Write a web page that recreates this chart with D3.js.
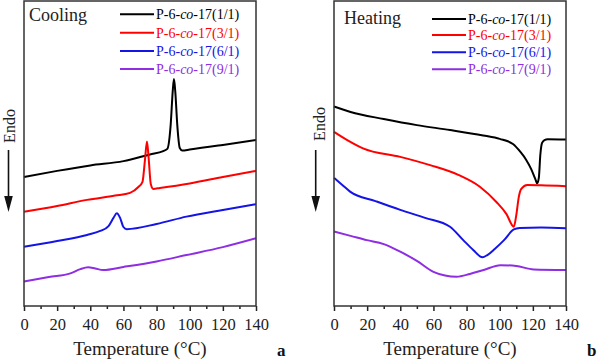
<!DOCTYPE html>
<html>
<head>
<meta charset="utf-8">
<script src="https://cdn.jsdelivr.net/npm/d3@7"></script>
<style>
  body { margin: 0; background: #fff; }
  svg { display: block; font-family: "Liberation Serif", "DejaVu Serif", serif; }
</style>
</head>
<body>
<div class="canvas"></div>
<script>
// DSC traces, values (heat flow, arbitrary units 0-100)
const seriesNames = ['P-6-co-17(1/1)', 'P-6-co-17(3/1)', 'P-6-co-17(6/1)', 'P-6-co-17(9/1)'];
const seriesColors = ['#000000', '#ff0000', '#1414e6', '#8e2de2'];
const tickLabels = [0, 20, 40, 60, 80, 100, 120, 140];

// cooling scans [T (°C), heat flow]
const cool11 = [[0,42.3],[20,44.3],[40,46.1],[60,47.5],[76,49.7],[84,50.8],[86.5,51.5],[88.5,59.3],[89.8,70.8],[90.5,74.4],[91.3,70.2],[92.5,59.3],[94,51.8],[95.5,51.0],[100,51.3],[120,52.8],[140,54.4]];
const cool31 = [[0,30.9],[20,32.8],[38,34.8],[55,36.2],[64,37.1],[69,39.0],[71.5,40.7],[73,47.9],[74.2,53.9],[75.3,47.9],[76.5,40.0],[78,38.4],[82,38.7],[100,40.2],[120,42.3],[140,44.3]];
const cool61 = [[0,19.4],[20,21.3],[38,23.3],[46,24.6],[51,26.2],[54,28.9],[56,30.4],[58,28.9],[60,25.9],[62,25.2],[80,26.9],[98,29.3],[120,31.5],[140,33.4]];
const cool91 = [[0,8.0],[15,9.5],[28,10.7],[34,12.1],[38.7,12.7],[43,12.3],[47.7,11.8],[60,12.8],[80,14.6],[98,16.7],[120,19.3],[140,22.2]];

// heating scans
const heat11 = [[0,65.4],[10,63.6],[30,61.3],[50,59.3],[70,57.7],[90,55.9],[100,54.8],[108,53.1],[112.5,50.5],[116,47.9],[119,44.9],[121.5,41.6],[122.6,40.2],[123.6,42.0],[124.5,49.5],[125.5,53.4],[127,54.4],[129,54.7],[140,54.6]];
const heat31 = [[0,57.1],[8,54.4],[17.5,51.7],[40,48.9],[58,46.2],[75,43.0],[88,39.1],[98,34.1],[104,30.2],[108.5,26.0],[110,29.8],[111.5,35.7],[113,38.4],[116.6,39.7],[125,39.6],[140,39.3]];
const heat61 = [[0,42.0],[5,39.7],[9.7,37.5],[25,34.4],[40,31.5],[55,28.9],[70,26.0],[78,21.6],[84,18.4],[89.5,16.0],[92.5,16.7],[97,18.7],[102.6,21.6],[108.5,25.1],[112,25.6],[125,25.7],[140,25.5]];
const heat91 = [[0,24.4],[10,23.0],[19.8,21.6],[30,20.3],[40,17.8],[50,14.8],[60,11.2],[67,10.0],[74,9.6],[82,10.5],[90.3,11.8],[100.4,13.4],[110,13.1],[120.5,12.0],[140,11.8]];

const svg = d3.select('.canvas').append('svg')
  .attr('width', 600)
  .attr('height', 361);

const y = d3.scaleLinear().domain([0, 100]).range([306, 1]);

const panels = [
  { x0: 24, x1: 256, title: 'Cooling', titleX: 29, titleY: 21, series: [cool11, cool31, cool61, cool91],
    legX: 120, legRows: [14.3, 32.7, 51, 69], endoX: 15, endoY: 126, arrowX: 8.5, tag: 'a', tagX: 277 },
  { x0: 334, x1: 566, title: 'Heating', titleX: 344, titleY: 24, series: [heat11, heat31, heat61, heat91],
    legX: 432, legRows: [19, 35, 52.3, 69.3], endoX: 325, endoY: 124, arrowX: 315.7, tag: 'b', tagX: 587 }
];

panels.forEach(p => {
  const x = d3.scaleLinear().domain([0, 140]).range([p.x0, p.x1]);
  const g = svg.append('g');

  const line = d3.line()
    .x(d => x(d[0]))
    .y(d => y(d[1]))
    .curve(d3.curveMonotoneX);

  g.selectAll('path.trace')
    .data(p.series)
    .enter().append('path')
    .attr('class', 'trace')
    .attr('d', line)
    .attr('fill', 'none')
    .attr('stroke', (d, i) => seriesColors[i])
    .attr('stroke-width', 2)
    .attr('stroke-linejoin', 'round');

  // minor ticks
  g.append('g')
    .attr('transform', `translate(0,${y(0)})`)
    .call(d3.axisBottom(x).tickValues(d3.range(10, 140, 20)).tickSize(3).tickFormat(''))
    .call(a => a.select('.domain').remove())
    .call(a => a.selectAll('line').attr('stroke', '#222').attr('stroke-width', 1.5));

  // major ticks
  g.append('g')
    .attr('transform', `translate(0,${y(0)})`)
    .call(d3.axisBottom(x).tickValues(tickLabels).tickSize(5).tickPadding(7))
    .call(a => a.select('.domain').remove())
    .call(a => a.selectAll('line').attr('stroke', '#222').attr('stroke-width', 1.5))
    .call(a => a.selectAll('text')
      .attr('font-family', '"Liberation Serif", serif')
      .attr('font-size', 16.5)
      .attr('fill', '#222'));

  // frame
  g.append('rect')
    .attr('x', p.x0).attr('y', y(100))
    .attr('width', p.x1 - p.x0).attr('height', y(0) - y(100))
    .attr('fill', 'none')
    .attr('stroke', '#333')
    .attr('stroke-width', 1.5);

  g.append('text')
    .attr('x', (p.x0 + p.x1) / 2).attr('y', 355)
    .attr('text-anchor', 'middle')
    .attr('font-size', 19)
    .attr('fill', '#222')
    .text('Temperature (°C)');

  g.append('text')
    .attr('x', p.titleX).attr('y', p.titleY)
    .attr('font-size', 18)
    .attr('fill', '#222')
    .text(p.title);

  // legend
  const leg = g.selectAll('g.leg')
    .data(seriesNames)
    .enter().append('g')
    .attr('class', 'leg')
    .attr('transform', (d, i) => `translate(${p.legX},${p.legRows[i]})`);

  leg.append('line')
    .attr('x1', 0).attr('x2', 34)
    .attr('stroke', (d, i) => seriesColors[i])
    .attr('stroke-width', 2);

  const lt = leg.append('text')
    .attr('x', 36).attr('y', 5)
    .attr('font-size', 14)
    .attr('fill', (d, i) => seriesColors[i]);
  lt.append('tspan').text(d => d.split('co')[0]);
  lt.append('tspan').attr('font-style', 'italic').text('co');
  lt.append('tspan').text(d => d.split('co')[1]);

  // Endo label with arrow
  g.append('text')
    .attr('transform', `translate(${p.endoX},${p.endoY}) rotate(-90)`)
    .attr('text-anchor', 'middle')
    .attr('font-size', 16)
    .attr('fill', '#222')
    .text('Endo');

  g.append('line')
    .attr('x1', p.arrowX).attr('x2', p.arrowX)
    .attr('y1', 150).attr('y2', 200)
    .attr('stroke', '#111')
    .attr('stroke-width', 1.6);

  g.append('path')
    .attr('d', `M${p.arrowX - 4.3},196 L${p.arrowX + 4.3},196 L${p.arrowX},212 Z`)
    .attr('fill', '#111');

  g.append('text')
    .attr('x', p.tagX).attr('y', 356)
    .attr('font-size', 17)
    .attr('font-weight', 'bold')
    .attr('fill', '#111')
    .text(p.tag);
});
</script>
</body>
</html>
